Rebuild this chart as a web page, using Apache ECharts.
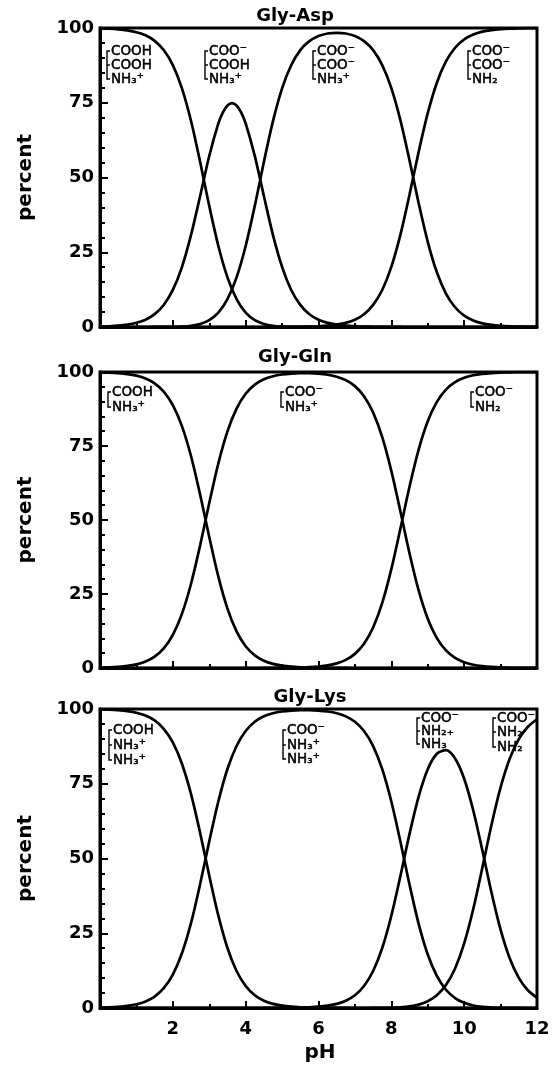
<!DOCTYPE html>
<html><head><meta charset="utf-8">
<script src="https://cdn.jsdelivr.net/npm/echarts@6/dist/echarts.min.js"></script>
<style>html,body{margin:0;padding:0;background:#fff}#c{width:560px;height:1068px}</style>
</head><body><div id="c"></div>
<script>
// ---- data ----
const pH = [0,0.25,0.5,0.75,1,1.25,1.5,1.75,2,2.25,2.5,2.75,3,3.25,3.5,3.75,4,4.25,4.5,4.75,5,5.25,5.5,5.75,6,
  6.25,6.5,6.75,7,7.25,7.5,7.75,8,8.25,8.5,8.75,9,9.25,9.5,9.75,10,10.25,10.5,10.75,11,11.25,11.5,11.75,12];
// same grid, with extra points around the peak of the Gly-Asp middle species
const pHAsp2 = [0,0.25,0.5,0.75,1,1.25,1.5,1.75,2,2.25,2.5,2.75,3,3.25,3.375,3.5,3.625,3.75,3.875,4,4.25,4.5,4.75,5,5.25,5.5,5.75,6,
  6.25,6.5,6.75,7,7.25,7.5,7.75,8,8.25,8.5,8.75,9,9.25,9.5,9.75,10,10.25,10.5,10.75,11,11.25,11.5,11.75,12];

// Gly-Asp species (percent)
const asp1 = [99.86,99.75,99.56,99.21,98.6,97.55,95.7,92.63,87.6,79.81,68.9,55.19,40.5,27.1,16.6,9.33,4.8,2.28,1.0,0.39,0.14,0.05,0.02,0.01,
  0,0,0,0,0,0,0,0,0,0,0,0,0,0,0,0,0,0,0,0,0,0,0,0,0];
const asp2 = [0.14,0.25,0.44,0.79,1.4,2.45,4.3,7.36,12.4,20.05,30.8,43.83,57.2,68.08,71.79,74.1,74.87,74.09,71.79,68.1,57.22,43.8,30.75,20.1,12.37,7.4,4.27,
  2.4,1.39,0.8,0.44,0.24,0.14,0.07,0.04,0.02,0.01,0,0,0,0,0,0,0,0,0,0,0,0,0,0,0];
const asp3 = [0,0,0,0,0,0,0.01,0.02,0.05,0.14,0.4,0.98,2.3,4.82,9.3,16.59,27.1,40.5,55.2,68.85,79.8,87.54,92.6,95.59,97.3,
  98.17,98.4,98.17,97.3,95.59,92.6,87.58,79.9,69.12,55.7,41.44,28.5,18.29,11.2,6.61,3.8,2.19,1.2,0.7,0.4,0.22,0.13,0.07,0.04];
const asp4 = [0,0,0,0,0,0,0,0,0,0,0,0,0,0,0,0,0,0,0,0.01,0.02,0.04,0.07,0.14,0.24,
  0.44,0.8,1.39,2.4,4.27,7.4,12.38,20.1,30.88,44.3,58.56,71.5,81.71,88.8,93.39,96.2,97.81,98.8,99.3,99.6,99.78,99.87,99.93,99.96];

// Gly-Gln species
const gln1 = [99.87,99.78,99.6,99.3,98.76,97.81,96.17,93.39,88.82,81.71,71.53,58.55,44.27,30.87,20.07,12.38,7.36,4.28,2.45,1.39,0.79,0.44,0.25,0.14,0.08,
  0.04,0.02,0.01,0,0,0,0,0,0,0,0,0,0,0,0,0,0,0,0,0,0,0,0,0];
const gln2 = [0.13,0.22,0.4,0.7,1.24,2.19,3.83,6.61,11.18,18.29,28.47,41.45,55.73,69.13,79.93,87.62,92.64,95.72,97.55,98.58,99.16,99.47,99.59,99.58,99.42,
  99.08,98.42,97.25,95.23,91.82,86.32,78.01,66.61,52.88,38.68,26.19,16.63,10.09,5.93,3.43,1.96,1.11,0.63,0.35,0.2,0.11,0.06,0.04,0.02];
const gln3 = [0,0,0,0,0,0,0,0,0,0,0,0,0,0,0,0,0,0,0.02,0.03,0.05,0.09,0.16,0.28,0.5,
  0.88,1.56,2.74,4.77,8.18,13.68,21.99,33.39,47.12,61.32,73.81,83.37,89.91,94.07,96.57,98.04,98.89,99.37,99.65,99.8,99.89,99.94,99.96,99.98];

// Gly-Lys species
const lys1 = [99.87,99.78,99.6,99.3,98.76,97.81,96.17,93.39,88.82,81.71,71.53,58.55,44.27,30.87,20.07,12.38,7.36,4.28,2.45,1.39,0.79,0.44,0.25,0.14,0.08,
  0.04,0.02,0.01,0,0,0,0,0,0,0,0,0,0,0,0,0,0,0,0,0,0,0,0,0];
const lys2 = [0.13,0.22,0.4,0.7,1.24,2.19,3.83,6.61,11.18,18.29,28.47,41.45,55.73,69.13,79.93,87.62,92.64,95.72,97.55,98.58,99.17,99.48,99.61,99.61,99.48,
  99.17,98.58,97.54,95.72,92.64,87.61,79.9,69.06,55.61,41.23,28.15,17.88,10.71,6.1,3.32,1.72,0.83,0.37,0.15,0.06,0.02,0.01,0,0];
const lys3 = [0,0,0,0,0,0,0,0,0,0,0,0,0,0,0,0,0,0,0.01,0.03,0.04,0.08,0.14,0.25,0.44,
  0.79,1.39,2.45,4.28,7.36,12.38,20.07,30.85,44.17,58.25,70.72,79.87,85.03,86.22,83.45,76.68,66.06,52.68,38.63,26.18,16.63,10.09,5.93,3.43];
const lys4 = [0,0,0,0,0,0,0,0,0,0,0,0,0,0,0,0,0,0,0,0,0,0,0,0,0,
  0,0,0,0,0,0.01,0.03,0.09,0.22,0.52,1.12,2.25,4.26,7.68,13.23,21.61,33.11,46.95,61.22,73.77,83.35,89.9,94.07,96.57];

const panelTitles = ['Gly-Asp','Gly-Gln','Gly-Lys'];
const xTickLabels = [2,4,6,8,10,12];
const yTickLabels = [0,25,50,75,100];
const xName = 'pH';
const yName = 'percent';

const aspLabels = [['COOH','COOH','NH₃⁺'],['COO⁻','COOH','NH₃⁺'],['COO⁻','COO⁻','NH₃⁺'],['COO⁻','COO⁻','NH₂']];
const glnLabels = [['COOH','NH₃⁺'],['COO⁻','NH₃⁺'],['COO⁻','NH₂']];
const lysLabels = [['COOH','NH₃⁺','NH₃⁺'],['COO⁻','NH₃⁺','NH₃⁺'],['COO⁻','NH₂₊','NH₃'],['COO⁻','NH₂','NH₂']];

// ---- layout ----
const G_LEFT = 100, G_WIDTH = 437;
const grids = [{top:28,height:299},{top:372,height:296},{top:709,height:299}];
const titlePos = [[295,16],[295,357],[310,697]];
// bracket x and row centre y for each species label
const labelLayout = [
  [[107,[51,65,79]],[205,[51,65,79]],[313,[51,65,79]],[468,[51,65,79]]],
  [[108,[392,407]],[281,[392,407]],[471,[392,407]]],
  [[109,[730,745,760]],[283,[730,745,759]],[417,[718,731,744]],[493,[718,732,747]]]
];
const panelLabels = [aspLabels, glnLabels, lysLabels];
const panelSeries = [
  [[pH,asp1],[pHAsp2,asp2],[pH,asp3],[pH,asp4]],
  [[pH,gln1],[pH,gln2],[pH,gln3]],
  [[pH,lys1],[pH,lys2],[pH,lys3],[pH,lys4]]
];

const FONT = '"DejaVu Sans", sans-serif';
const chart = echarts.init(document.getElementById('c'), null, {renderer:'canvas'});

const grid = grids.map(g => ({left:G_LEFT, width:G_WIDTH, top:g.top, height:g.height, containLabel:false,
  outerBoundsMode:'none', show:true, borderColor:'#000', borderWidth:3, backgroundColor:'transparent'}));

const xAxis = grids.map((g,i) => ({
  type:'value', gridIndex:i, min:0, max:12, interval:2,
  axisLine:{show:true, onZero:false, lineStyle:{color:'#000', width:3}},
  axisTick:{show:true, inside:true, length:7, lineStyle:{color:'#000', width:2}},
  minorTick:{show:true, splitNumber:2, length:4, lineStyle:{color:'#000', width:2}},
  splitLine:{show:false}, minorSplitLine:{show:false},
  axisLabel:{show:i===2, color:'#000', fontFamily:FONT, fontWeight:'bold', fontSize:18, margin:12,
    formatter: v => xTickLabels.includes(v) ? String(v) : ''}
}));
const yAxis = grids.map((g,i) => ({
  type:'value', gridIndex:i, min:0, max:100, interval:25,
  axisLine:{show:true, onZero:false, lineStyle:{color:'#000', width:3}},
  axisTick:{show:true, inside:true, length:8, lineStyle:{color:'#000', width:2}},
  minorTick:{show:true, splitNumber:5, length:5, lineStyle:{color:'#000', width:2}},
  splitLine:{show:false}, minorSplitLine:{show:false},
  axisLabel:{show:true, color:'#000', fontFamily:FONT, fontWeight:'bold', fontSize:18, margin:6,
    formatter: v => yTickLabels.includes(v) ? String(v) : ''}
}));

const series = [];
panelSeries.forEach((pairs,i) => pairs.forEach(([xs,arr]) => series.push({
  type:'line', xAxisIndex:i, yAxisIndex:i, data: xs.map((x,k)=>[x, arr[k]]),
  showSymbol:false, symbol:'none', smooth:0.3, silent:true,
  lineStyle:{color:'#000', width:2.7}
})));

const graphic = [];
function txt(x,y,text,font,align,rot,strokeW){
  const style = {text, font, fill:'#000', textAlign:align||'left', align:align||'left', textVerticalAlign:'middle', verticalAlign:'middle'};
  if (strokeW) { style.stroke = '#000'; style.lineWidth = strokeW; }
  graphic.push({type:'text', x, y, rotation:rot||0, silent:true, z:100, style});
}
panelTitles.forEach((t,i)=> txt(titlePos[i][0], titlePos[i][1], t, 'bold 18px '+FONT, 'center'));
grids.forEach(g => txt(26, g.top + g.height/2, yName, 'bold 20px '+FONT, 'center', Math.PI/2));
txt(320, 1053, xName, 'bold 20px '+FONT, 'center');

panelLabels.forEach((labs,p) => labs.forEach((lines,j) => {
  const [bx, rows] = labelLayout[p][j];
  const y1 = rows[0], yn = rows[rows.length-1];
  graphic.push({type:'polyline', silent:true, z:100, shape:{points:[[bx+3,y1],[bx,y1],[bx,yn],[bx+3,yn]]},
    style:{stroke:'#000', lineWidth:1.4, fill:null}});
  rows.slice(1,-1).forEach(y => graphic.push({type:'line', silent:true, z:100, shape:{x1:bx,y1:y,x2:bx+3,y2:y},
    style:{stroke:'#000', lineWidth:1.4}}));
  lines.forEach((s,k) => txt(bx+4, rows[k], s, '13.5px '+FONT, 'left', 0, 0.5));
}));

chart.setOption({animation:false, backgroundColor:'#fff', grid, xAxis, yAxis, series, graphic});
</script></body></html>
